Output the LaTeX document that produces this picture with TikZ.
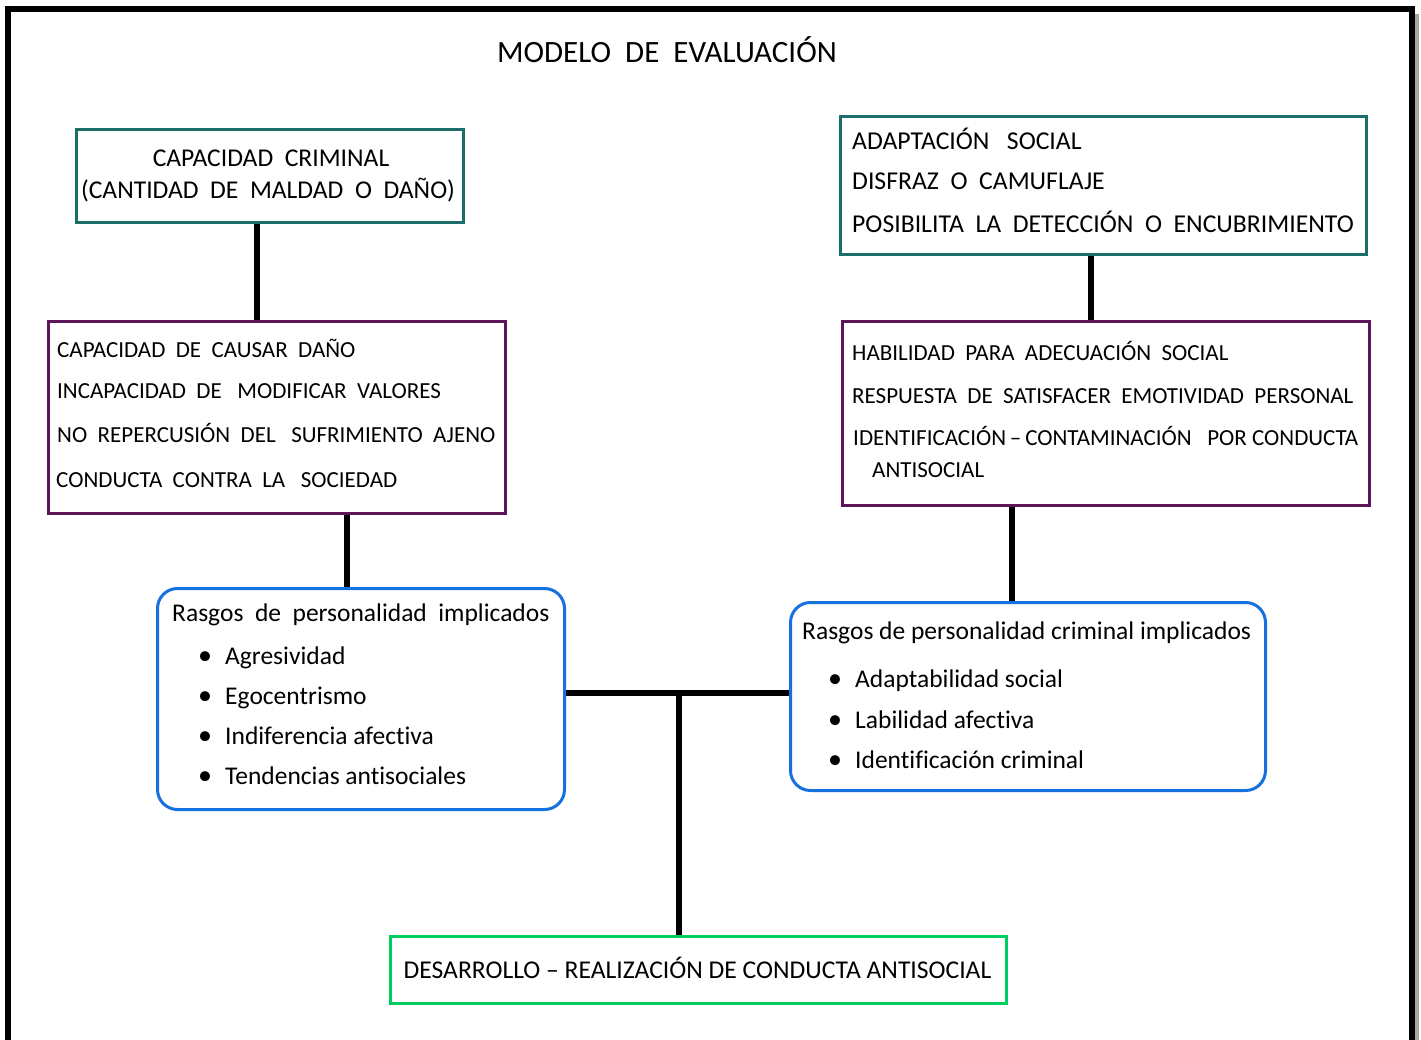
\documentclass[tikz,border=0pt]{standalone}
\usepackage{fontspec}
\setmainfont{Carlito}[Ligatures=CommonOff]
\definecolor{tealc}{RGB}{28,110,106}
\definecolor{purpc}{RGB}{92,22,88}
\definecolor{bluec}{RGB}{22,112,222}
\definecolor{greenc}{RGB}{0,204,96}
\begin{document}
\begin{tikzpicture}[x=1pt,y=-1pt,
  sqbox/.style={draw, line width=3pt, rectangle, inner sep=0pt, anchor=north west},
  tbox/.style={sqbox, draw=tealc},
  pbox/.style={sqbox, draw=purpc},
  rbox/.style={draw=bluec, line width=3pt, rounded corners=20pt, rectangle, inner sep=0pt, anchor=north west},
  gbox/.style={sqbox, draw=greenc},
  conn/.style={line width=6pt, black},
  capA/.style={font=\fontsize{25.6}{30}\selectfont, inner sep=0pt, anchor=base},
  capB/.style={font=\fontsize{23}{27}\selectfont, inner sep=0pt, anchor=base west},
  capC/.style={font=\fontsize{25.7}{30}\selectfont, inner sep=0pt, anchor=base west},
  lowt/.style={font=\fontsize{25.5}{30}\selectfont, inner sep=0pt, anchor=base west},
  bul/.style={font=\fontsize{28}{30}\selectfont, inner sep=0pt, anchor=base}
]
\useasboundingbox (0,0) rectangle (1421,1040);
\fill[white] (0,0) rectangle (1421,1040);
% outer frame
\draw[line width=4pt, black!35] (1417,14) -- (1417,1050);
\draw[line width=6pt, black] (8,1050) -- (8,9) -- (1412,9) -- (1412,1050);

\node[font=\fontsize{31}{36}\selectfont, inner sep=0pt, anchor=base] (title) at (667,63) {MODELO\ \ DE\ \ EVALUACIÓN};

% boxes
\node[tbox, minimum width=387pt, minimum height=93pt] (b1) at (75,128) {};
\node[pbox, minimum width=457pt, minimum height=192pt] (b2) at (47,320) {};
\node[rbox, minimum width=407pt, minimum height=221pt] (b3) at (156,587) {};
\node[tbox, minimum width=526pt, minimum height=138pt] (b4) at (839,115) {};
\node[pbox, minimum width=527pt, minimum height=184pt] (b5) at (841,320) {};
\node[rbox, minimum width=475pt, minimum height=188pt] (b6) at (789,601) {};
\node[gbox, minimum width=616pt, minimum height=67pt] (b7) at (389,935) {};

% texts box1
\node[capA] (t11) at (271,167) {CAPACIDAD\ \ CRIMINAL};
\node[capA] (t12) at (268,199) {(CANTIDAD\ \ DE\ \ MALDAD\ \ O\ \ DAÑO)};
% box2
\node[capB] (t21) at (57,357) {CAPACIDAD\ \ DE\ \ CAUSAR\ \ DAÑO};
\node[capB] (t22) at (57,399) {INCAPACIDAD\ \ DE\ \ \ MODIFICAR\ \ VALORES};
\node[capB] (t23) at (57,442) {NO\ \ REPERCUSIÓN\ \ DEL\ \ \ SUFRIMIENTO\ \ AJENO};
\node[capB] (t24) at (56,487) {CONDUCTA\ \ CONTRA\ \ LA\ \ \ SOCIEDAD};
% box4
\node[capC] (t41) at (852,150) {ADAPTACIÓN\ \ \ SOCIAL};
\node[capC] (t42) at (852,190) {DISFRAZ\ \ O\ \ CAMUFLAJE};
\node[capC] (t43) at (852,233) {POSIBILITA\ \ LA\ \ DETECCIÓN\ \ O\ \ ENCUBRIMIENTO};
% box5
\node[capB] (t51) at (852,360) {HABILIDAD\ \ PARA\ \ ADECUACIÓN\ \ SOCIAL};
\node[capB] (t52) at (852,403) {RESPUESTA\ \ DE\ \ SATISFACER\ \ EMOTIVIDAD\ \ PERSONAL};
\node[capB] (t53) at (853,445) {IDENTIFICACIÓN\,–\,CONTAMINACIÓN\ \ \ POR\ CONDUCTA};
\node[capB] (t54) at (872,477) {ANTISOCIAL};
% box3
\node[lowt] (t31) at (172,621) {Rasgos\ \ de\ \ personalidad\ \ implicados};
\foreach \yy/\tx [count=\i] in {664/Agresividad,704/Egocentrismo,744/Indiferencia afectiva,784/Tendencias antisociales}{
  \node[bul] (d3\i) at (205,\yy) {•};
  \node[lowt] (i3\i) at (225,\yy) {\tx};
}
% box6
\node[lowt] (t61) at (802,639) {Rasgos de personalidad criminal implicados};
\foreach \yy/\tx [count=\i] in {687/Adaptabilidad social,728/Labilidad afectiva,768/Identificación criminal}{
  \node[bul] (d6\i) at (835,\yy) {•};
  \node[lowt] (i6\i) at (855,\yy) {\tx};
}
% box7
\node[capA] (t71) at (697.5,978) {DESARROLLO – REALIZACIÓN DE CONDUCTA ANTISOCIAL};

% connectors
\draw[conn] (257,0 |- b1.south) -- (257,0 |- b2.north);
\draw[conn] (347,0 |- b2.south) -- (347,0 |- b3.north);
\draw[conn] (1091,0 |- b4.south) -- (1091,0 |- b5.north);
\draw[conn] (1012,0 |- b5.south) -- (1012,0 |- b6.north);
\draw[conn] (b3.east |- 0,693) -- (b6.west |- 0,693);
\coordinate (jn) at (679,693);
\draw[conn] (jn) -- (jn |- b7.north);
\end{tikzpicture}
\end{document}
